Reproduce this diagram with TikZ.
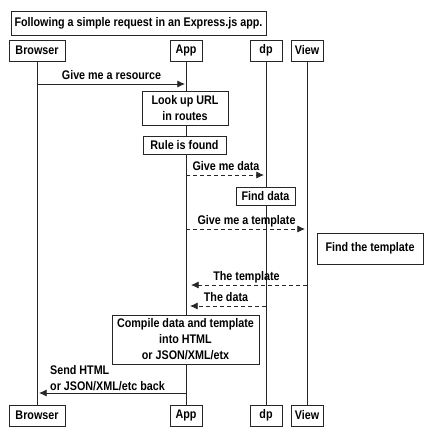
\documentclass[tikz,border=0pt]{standalone}
\usepackage{fontspec}
\setmainfont{Liberation Sans}[FakeStretch=0.86]
\usetikzlibrary{arrows.meta,positioning}
\tikzset{
    box/.style={draw=black!85, line width=0.8pt, fill=white, inner sep=0pt, align=center, font=\bfseries\fontsize{12.5}{16}\selectfont},
    head/.style={box, minimum height=21pt},
    lifeline/.style={draw=black!85, line width=0.8pt},
    msg/.style={draw=black!85, line width=0.8pt, -{Latex[length=2.7mm,width=2.5mm]}},
    ret/.style={msg, dash pattern=on 4pt off 3pt},
    msglabel/.style={font=\bfseries\fontsize{12.5}{16}\selectfont, inner sep=0pt, text height=9pt, text depth=2.5pt}}

\begin{document}
\begin{tikzpicture}[x=1pt,y=-1pt]
\useasboundingbox (0,0) rectangle (430,440);
\node[box, minimum width=255pt, minimum height=24pt] (title) at (138.5,23) {Following a simple request in an Express.js app.};
% participants, top and bottom
\node[head, minimum width=56pt] (brT) at (37,50.5) {Browser};
\node[head, minimum width=32pt] (appT) at (186,50.5) {App};
\node[head, minimum width=32pt] (dpT) at (266,50.5) {dp};
\node[head, minimum width=32pt] (viewT) at (307,50.5) {View};
\node[head, minimum width=56pt] (brB) at (37,415.5) {Browser};
\node[head, minimum width=32pt] (appB) at (186,415.5) {App};
\node[head, minimum width=32pt] (dpB) at (266,415.5) {dp};
\node[head, minimum width=32pt] (viewB) at (307,415.5) {View};
\foreach \n in {br,app,dp,view}
    \draw[lifeline] (\n T) -- (\n B);
% heights of the messages
\coordinate (m1) at (0,84);
\coordinate (m2) at (0,175);
\coordinate (m3) at (0,229);
\coordinate (m4) at (0,285);
\coordinate (m5) at (0,306);
\coordinate (m6) at (0,393);
\draw[msg, shorten >=1pt] (brT |- m1) -- node[msglabel, above=1.5pt] {Give me a resource} (appT |- m1);
\node[box, minimum width=86pt, minimum height=34pt] (lookup) at (185,108) {Look up URL\\in routes};
\node[box, minimum width=83pt, minimum height=18pt] (rule) at (184.5,145) {Rule is found};
\draw[ret, shorten >=2pt] (appT |- m2) -- node[msglabel, above=1.5pt] {Give me data} (dpT |- m2);
\node[box, minimum width=59pt, minimum height=18pt] (finddata) at (265.5,196) {Find data};
\draw[ret, shorten >=2pt] (appT |- m3) -- node[msglabel, above=1.5pt] {Give me a template} (viewT |- m3);
\node[box, minimum width=106pt, minimum height=31pt] (findtpl) at (370,248.5) {Find the template};
\draw[ret, shorten >=5pt] (viewT |- m4) -- node[msglabel, above=1.5pt] {The template} (appT |- m4);
\draw[ret, shorten >=4pt] (dpT |- m5) -- node[msglabel, above=1.5pt] {The data} (appT |- m5);
\node[box, minimum width=147pt, minimum height=49pt] (compile) at (185.5,339.5) {Compile data and template\\into HTML\\or JSON/XML/etx};
\draw[msg, shorten >=2pt] (appT |- m6) -- (brT |- m6);
\node[font=\bfseries\fontsize{12.5}{16}\selectfont, inner sep=0pt, align=left, anchor=south west] (sendlbl) at (50,391) {Send HTML\\or JSON/XML/etc back};
\end{tikzpicture}
\end{document}
